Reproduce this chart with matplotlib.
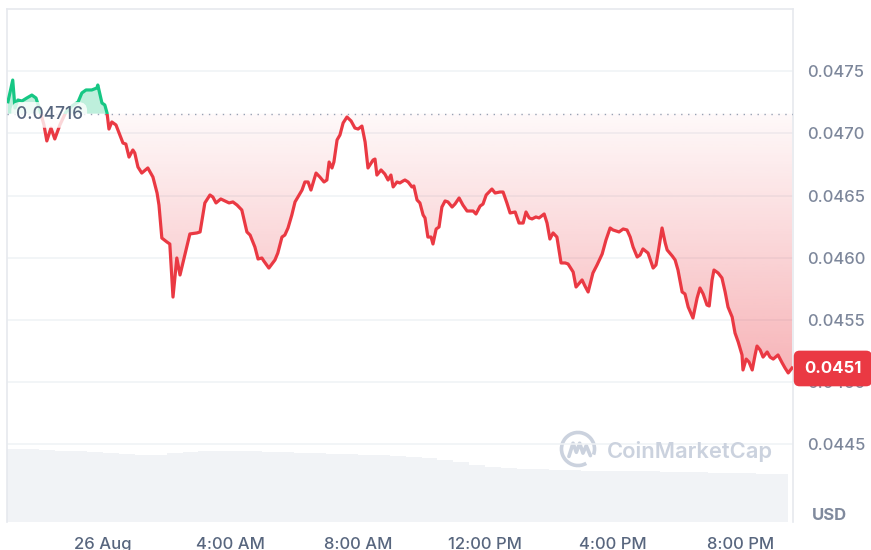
import matplotlib
matplotlib.use("Agg")
import matplotlib.pyplot as plt
import matplotlib.transforms as mtransforms
from matplotlib.path import Path
from matplotlib.patches import Rectangle, Arc
import numpy as np

plt.rcParams['font.family'] = ['Inter', 'DejaVu Sans']

# price data: hours from 26 Aug 00:00, price in USD
hours = [-2.98, -2.83, -2.76, -2.67, -2.54, -2.39, -2.23, -2.10, -1.98, -1.85,
         -1.76, -1.63, -1.51, -1.35, -1.16, -0.97, -0.78, -0.66, -0.53, -0.35,
         -0.19, -0.16, -0.03, 0.06, 0.13, 0.19, 0.28, 0.41, 0.53, 0.63,
         0.72, 0.82, 0.94, 1.00, 1.10, 1.22, 1.41, 1.57, 1.70, 1.76,
         1.85, 2.01, 2.10, 2.20, 2.32, 2.42, 2.57, 2.73, 2.95, 3.05,
         3.20, 3.36, 3.45, 3.55, 3.70, 3.83, 3.96, 4.08, 4.21, 4.36,
         4.52, 4.62, 4.77, 4.87, 4.99, 5.05, 5.21, 5.40, 5.49, 5.62,
         5.71, 5.81, 5.93, 6.03, 6.12, 6.25, 6.34, 6.44, 6.53, 6.69,
         6.81, 6.94, 7.03, 7.10, 7.19, 7.25, 7.35, 7.44, 7.54, 7.66,
         7.79, 7.91, 8.01, 8.13, 8.23, 8.32, 8.48, 8.54, 8.60, 8.73,
         8.85, 8.95, 9.04, 9.11, 9.23, 9.32, 9.42, 9.48, 9.58, 9.70,
         9.76, 9.86, 9.95, 10.05, 10.11, 10.20, 10.30, 10.36, 10.46, 10.55,
         10.64, 10.74, 10.83, 10.96, 11.05, 11.18, 11.30, 11.43, 11.62, 11.71,
         11.84, 11.93, 12.03, 12.09, 12.21, 12.31, 12.46, 12.56, 12.68, 12.78,
         12.94, 13.06, 13.19, 13.28, 13.38, 13.47, 13.59, 13.69, 13.85, 13.94,
         14.03, 14.13, 14.25, 14.38, 14.51, 14.60, 14.76, 14.85, 15.04, 15.13,
         15.23, 15.38, 15.51, 15.67, 15.79, 15.92, 16.01, 16.20, 16.33, 16.45,
         16.55, 16.64, 16.77, 16.86, 16.95, 17.11, 17.27, 17.36, 17.43, 17.55,
         17.65, 17.71, 17.87, 17.96, 18.05, 18.18, 18.27, 18.37, 18.52, 18.65,
         18.74, 18.84, 18.96, 19.03, 19.12, 19.18, 19.31, 19.43, 19.53, 19.62,
         19.75, 19.84, 19.94, 20.06, 20.09, 20.19, 20.28, 20.38, 20.47, 20.53,
         20.63, 20.72, 20.85, 20.94, 21.04, 21.19, 21.32, 21.41, 21.51, 21.63]
prices = [0.047256, 0.047431, 0.047206, 0.047270, 0.047262, 0.047286, 0.047310, 0.047286, 0.047190, 0.047069,
          0.046940, 0.047044, 0.046956, 0.047069, 0.047173, 0.047222, 0.047254, 0.047327, 0.047351, 0.047351,
          0.047367, 0.047391, 0.047246, 0.047230, 0.047165, 0.047036, 0.047093, 0.047069, 0.046988, 0.046923,
          0.046915, 0.046810, 0.046867, 0.046843, 0.046730, 0.046681, 0.046722, 0.046649, 0.046520, 0.046423,
          0.046157, 0.046125, 0.046109, 0.045681, 0.045996, 0.045859, 0.046020, 0.046190, 0.046198, 0.046206,
          0.046440, 0.046504, 0.046488, 0.046440, 0.046472, 0.046456, 0.046440, 0.046448, 0.046423, 0.046383,
          0.046206, 0.046181, 0.046085, 0.045988, 0.045996, 0.045972, 0.045915, 0.045980, 0.046036, 0.046165,
          0.046181, 0.046238, 0.046343, 0.046448, 0.046488, 0.046544, 0.046609, 0.046609, 0.046544, 0.046681,
          0.046649, 0.046609, 0.046625, 0.046770, 0.046722, 0.046770, 0.046948, 0.046988, 0.047085, 0.047133,
          0.047101, 0.047044, 0.047036, 0.047060, 0.046931, 0.046722, 0.046786, 0.046794, 0.046665, 0.046706,
          0.046673, 0.046625, 0.046665, 0.046569, 0.046609, 0.046601, 0.046617, 0.046625, 0.046609, 0.046569,
          0.046577, 0.046464, 0.046440, 0.046343, 0.046319, 0.046165, 0.046165, 0.046109, 0.046230, 0.046246,
          0.046407, 0.046456, 0.046448, 0.046407, 0.046431, 0.046480, 0.046423, 0.046375, 0.046375, 0.046351,
          0.046415, 0.046431, 0.046504, 0.046520, 0.046552, 0.046520, 0.046528, 0.046528, 0.046440, 0.046359,
          0.046367, 0.046278, 0.046278, 0.046367, 0.046319, 0.046311, 0.046327, 0.046319, 0.046351, 0.046278,
          0.046149, 0.046198, 0.046165, 0.045956, 0.045956, 0.045948, 0.045883, 0.045762, 0.045819, 0.045770,
          0.045722, 0.045875, 0.045940, 0.046028, 0.046141, 0.046238, 0.046222, 0.046206, 0.046230, 0.046222,
          0.046165, 0.046085, 0.046004, 0.046020, 0.046069, 0.046036, 0.045915, 0.045940, 0.046044, 0.046238,
          0.046117, 0.046061, 0.046012, 0.045980, 0.045899, 0.045722, 0.045706, 0.045601, 0.045512, 0.045673,
          0.045754, 0.045706, 0.045617, 0.045609, 0.045819, 0.045899, 0.045875, 0.045835, 0.045722, 0.045601,
          0.045520, 0.045391, 0.045319, 0.045214, 0.045093, 0.045181, 0.045157, 0.045093, 0.045214, 0.045286,
          0.045254, 0.045197, 0.045238, 0.045197, 0.045181, 0.045214, 0.045150, 0.045109, 0.045069, 0.045109]

# volume (half-hour bars), arbitrary units
vol_hours = [-2.75, -2.25, -1.75, -1.25, -0.75, -0.25, 0.25, 0.75, 1.25, 1.75,
             2.25, 2.75, 3.25, 3.75, 4.25, 4.75, 5.25, 5.75, 6.25, 6.75,
             7.25, 7.75, 8.25, 8.75, 9.25, 9.75, 10.25, 10.75, 11.25, 11.75,
             12.25, 12.75, 13.25, 13.75, 14.25, 14.75, 15.25, 15.75, 16.25, 16.75,
             17.25, 17.75, 18.25, 18.75, 19.25, 19.75, 20.25, 20.75, 21.25]
volumes = [7.3, 7.3, 7.2, 7.1, 7.1, 7.0, 6.9, 6.8, 6.7, 6.7,
           6.9, 7.0, 7.1, 7.1, 7.1, 7.1, 7.0, 7.0, 6.9, 6.9,
           6.8, 6.8, 6.7, 6.7, 6.6, 6.5, 6.4, 6.2, 6.0, 5.7,
           5.5, 5.4, 5.3, 5.3, 5.2, 5.2, 5.1, 5.1, 5.1, 5.1,
           5.1, 5.0, 5.0, 5.0, 4.9, 4.9, 4.9, 4.8, 4.8]

open_price = 0.04716
open_label = '0.04716'
last_label = '0.0451'
tick_hours = [0, 4, 8, 12, 16, 20]
tick_labels = ['26 Aug', '4:00 AM', '8:00 AM', '12:00 PM', '4:00 PM', '8:00 PM']
price_ticks = [0.0445, 0.0450, 0.0455, 0.0460, 0.0465, 0.0470, 0.0475]

red = '#ea3943'
green = '#16c784'
grid_c = '#eff2f5'

h = np.array(hours)
p = np.array(prices)
xmin, xmax = -3.01, 21.66
ymin, ymax = 0.043867, 0.048004

fig = plt.figure(figsize=(8.71, 5.5), dpi=100)
ax = fig.add_axes([7/871, 28/550, 786/871, 513/550])

# volume bars on a twin axis
ax2 = ax.twinx()
ax2.set_ylim(0, 51.3)
ax2.bar(vol_hours, volumes, width=0.5, color='#f1f3f6', lw=0, zorder=1)
ax2.set_yticks([])
for s in ax2.spines.values():
    s.set_visible(False)

ax.set_xlim(xmin, xmax)
ax.set_ylim(ymin, ymax)
ax2.set_xlim(xmin, xmax)

# grid
for yv in price_ticks:
    ax.axhline(yv, color=grid_c, lw=1.1, zorder=0)

# green area above open price
ax.fill_between(h, p, open_price, where=p >= open_price, interpolate=True,
                color=green, alpha=0.28, lw=0, zorder=1)

# red gradient area below open price
red_fill = ax.fill_between(h, p, open_price, where=p <= open_price, interpolate=True,
                           facecolor='none', lw=0)
clip = Path.make_compound_path(*red_fill.get_paths())
rgb = matplotlib.colors.to_rgb(red)
grad = np.zeros((256, 1, 4))
grad[:, 0, 0] = rgb[0]
grad[:, 0, 1] = rgb[1]
grad[:, 0, 2] = rgb[2]
grad[:, 0, 3] = np.linspace(0.03, 0.38, 256)
im = ax.imshow(grad, extent=[xmin, xmax, 0.04505, open_price], aspect='auto',
               origin='upper', interpolation='bilinear', zorder=1)
im.set_clip_path(clip, ax.transData)
ax.set_xlim(xmin, xmax)
ax.set_ylim(ymin, ymax)

# price line: green above open, red below
l_red, = ax.plot(h, p, color=red, lw=2.3, zorder=4, solid_joinstyle='round')
l_green, = ax.plot(h, p, color=green, lw=2.3, zorder=4, solid_joinstyle='round')
l_green.set_clip_path(Rectangle((xmin, open_price), xmax - xmin, ymax - open_price,
                                transform=ax.transData))
l_red.set_clip_path(Rectangle((xmin, ymin), xmax - xmin, open_price - ymin,
                              transform=ax.transData))

# dotted open-price line
ax.axhline(open_price, color='#98a2b5', lw=1.0, ls=(0, (1, 4)), zorder=3)

blend = mtransforms.blended_transform_factory(ax.transAxes, ax.transData)
ax.text(0.011, open_price - 0.00001, open_label, transform=blend, ha='left', va='center',
        fontsize=12.5, fontweight='medium', color='#58667e', zorder=5,
        bbox=dict(boxstyle='round,pad=0.25,rounding_size=0.5', fc='white', ec='none', alpha=0.8))

# axes styling (after twinx, which moves ticks left)
ax.yaxis.tick_right()
ax.set_yticks(price_ticks)
ax.set_yticklabels(['%.4f' % v for v in price_ticks], fontweight='medium')
ax.set_xticks(tick_hours)
ax.set_xticklabels(tick_labels, fontweight='medium')
ax.tick_params(axis='y', length=0, pad=10, labelsize=12, labelcolor='#7d879b',
               left=False, labelleft=False, right=False, labelright=True)
ax.tick_params(axis='x', length=0, pad=11, labelsize=12, labelcolor='#58667e')
ax2.tick_params(axis='both', length=0, labelleft=False, labelright=False, labelbottom=False)
for s in ['left', 'right', 'top']:
    ax.spines[s].set_color('#e6e9ee')
    ax.spines[s].set_linewidth(1.2)
ax.spines['bottom'].set_visible(False)
ax.set_zorder(2)
ax2.set_zorder(1)
ax.patch.set_visible(False)

# current price label
ax.annotate(last_label, xy=(1.0, 0.045105), xycoords=blend, xytext=(8, 0),
            textcoords='offset points', ha='left', va='center', fontsize=12,
            fontweight='bold', color='white', zorder=10, annotation_clip=False,
            bbox=dict(boxstyle='round,pad=0.62,rounding_size=0.35', fc=red, ec='none'))

fig.text(829/871, 1 - 516/550, 'USD', ha='center', va='center', fontsize=12,
         fontweight='bold', color='#808a9d')

# watermark
fig.text(607/871, 1 - 451/550, 'CoinMarketCap', ha='left', va='center', fontsize=15.8,
         fontweight='semibold', color='#cbd2de', zorder=5)
lax = fig.add_axes([559/871, (550 - 468)/550, 38/871, 38/550])
lax.set_xlim(-1.15, 1.15)
lax.set_ylim(-1.15, 1.15)
lax.axis('off')
lax.add_patch(Arc((0, 0), 2, 2, theta1=-20, theta2=300, color='#cbd2de', lw=2.6))
lax.plot([-0.55, -0.3, -0.1, 0.1, 0.3, 0.5, 0.75], [-0.45, 0.35, -0.2, 0.35, -0.25, 0.2, -0.4],
         color='#cbd2de', lw=2.6, solid_capstyle='round', solid_joinstyle='round')

fig.savefig('out.png', dpi=100, facecolor='white')
